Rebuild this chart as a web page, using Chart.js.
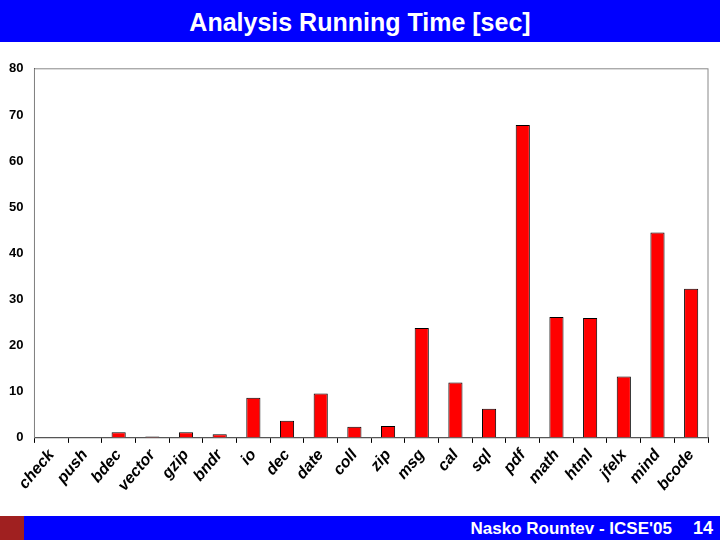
<!DOCTYPE html>
<html>
<head>
<meta charset="utf-8">
<script src="https://cdn.jsdelivr.net/npm/chart.js@4"></script>
<style>
  body { margin: 0; width: 720px; height: 540px; background: #fff; position: relative; overflow: hidden; font-family: "Liberation Sans", Arial, sans-serif; }
  #top { position: absolute; left: 0; top: 0; width: 720px; height: 42px; background: #0000ff; color: #fff; font-weight: bold; font-size: 25px; text-align: center; line-height: 44px; }
  #foot { position: absolute; left: 0; top: 516px; width: 720px; height: 24px; background: #0000ff; }
  #foot .who { position: absolute; right: 48px; top: 3px; font-weight: bold; font-size: 17px; color: #fff; }
  #foot .num { position: absolute; right: 7px; top: 2px; font-weight: bold; font-size: 18px; color: #fff; }
  #logo { position: absolute; left: 0; top: 516px; width: 24px; height: 24px; background: #a02020; }
  #wrap { position: absolute; left: 0; top: 58px; width: 720px; height: 440px; }
</style>
</head>
<body>
<div id="top">Analysis Running Time [sec]</div>
<div id="wrap"><canvas id="c"></canvas></div>
<div id="foot"><span class="who">Nasko Rountev - ICSE'05</span><span class="num">14</span></div>
<div id="logo"></div>
<script>
// programs and their analysis time (sec)
const programs = ["check","push","bdec","vector","gzip","bndr","io","dec","date","coll","zip","msg","cal","sql","pdf","math","html","jfelx","mind","bcode"];
const seconds = [0.1,0.1,1.2,0.3,1.2,0.8,8.7,3.7,9.6,2.4,2.6,23.8,12.0,6.3,67.8,26.2,26.0,13.3,44.5,32.3];
const yTicks = [0,10,20,30,40,50,60,70,80];

const boxPlugin = {
  id: "box",
  afterDraw(chart) {
    const a = chart.chartArea, ctx = chart.ctx;
    ctx.save();
    ctx.strokeStyle = "#888";
    ctx.lineWidth = 1;
    ctx.strokeRect(a.left, a.top, a.right - a.left, a.bottom - a.top);
    ctx.restore();
  }
};

new Chart(document.getElementById("c"), {
  type: "bar",
  data: {
    labels: programs,
    datasets: [{
      data: seconds,
      backgroundColor: "#ff0000",
      borderColor: "#000",
      borderWidth: 1,
      barPercentage: 0.42,
      categoryPercentage: 1.0
    }]
  },
  options: {
    responsive: true,
    maintainAspectRatio: false,
    animation: false,
    layout: { padding: { left: 6, right: 12, top: 4 } },
    plugins: { legend: { display: false }, tooltip: { enabled: false } },
    scales: {
      x: {
        grid: { drawOnChartArea: false, offset: true, color: "#000", tickLength: 5 },
        border: { color: "#000" },
        ticks: { autoSkip: false, color: "#000", maxRotation: 50, minRotation: 50, font: { size: 16, weight: "bold", style: "italic", family: "Liberation Sans" } }
      },
      y: {
        min: 0, max: 80,
        afterBuildTicks(s) { s.ticks = yTicks.map(v => ({ value: v })); },
        grid: { display: false },
        border: { color: "#000" },
        ticks: { color: "#000", font: { size: 13, weight: "bold", family: "Liberation Sans" } }
      }
    }
  },
  plugins: [boxPlugin]
});
</script>
</body>
</html>
